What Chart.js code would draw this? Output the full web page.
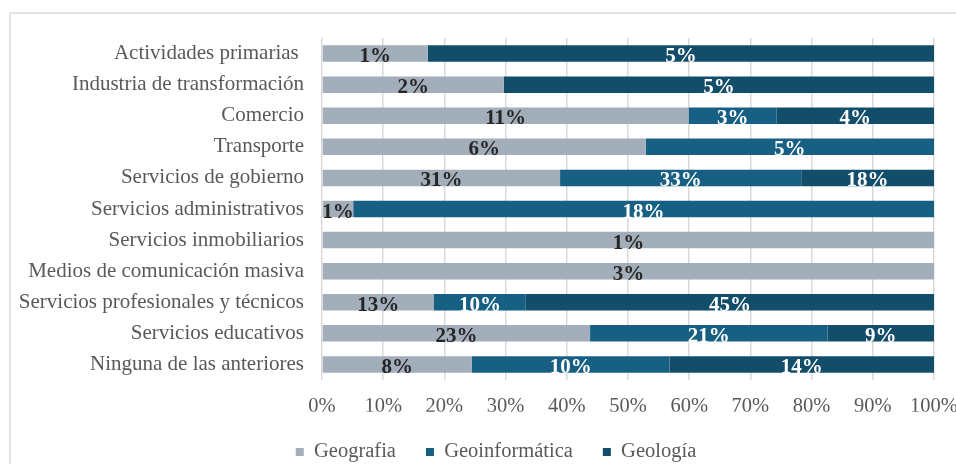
<!DOCTYPE html>
<html>
<head>
<meta charset="utf-8">
<script src="https://cdn.jsdelivr.net/npm/chart.js@4/dist/chart.umd.min.js"></script>
<style>
  html, body { margin: 0; padding: 0; background: #fff; overflow: hidden; }
  #wrap { position: relative; width: 956px; height: 464px; }
  #frame { position: absolute; left: 9px; top: 12px; width: 960px; height: 470px;
           border-left: 2px solid #e3e3e3; border-top: 2px solid #e3e3e3; }
  canvas { position: absolute; left: 0; top: 0; }
</style>
</head>
<body>
<div id="wrap">
  <div id="frame"></div>
  <canvas id="c" width="956" height="464"></canvas>
</div>
<script>
const categories = ['Actividades primarias ', 'Industria de transformación', 'Comercio', 'Transporte',
  'Servicios de gobierno', 'Servicios administrativos', 'Servicios inmobiliarios',
  'Medios de comunicación masiva', 'Servicios profesionales y técnicos', 'Servicios educativos',
  'Ninguna de las anteriores'];
const seriesNames = ['Geografia', 'Geoinformática', 'Geología'];
// share of each bar (percent of 100% stacked bar)
const geografia      = [17.3, 29.7, 59.9, 52.9, 38.9, 5.1, 100, 100, 18.3, 43.8, 24.5];
const geoinformatica = [null, null, 14.4, 47.1, 39.4, 94.9, null, null, 15.0, 38.8, 32.3];
const geologia       = [82.7, 70.3, 25.7, null, 21.7, null, null, null, 66.7, 17.4, 43.2];
// printed labels
const geografiaLabels      = ['1%', '2%', '11%', '6%', '31%', '1%', '1%', '3%', '13%', '23%', '8%'];
const geoinformaticaLabels = [null, null, '3%', '5%', '33%', '18%', null, null, '10%', '21%', '10%'];
const geologiaLabels       = ['5%', '5%', '4%', null, '18%', null, null, null, '45%', '9%', '14%'];
const xTicks = [0, 10, 20, 30, 40, 50, 60, 70, 80, 90, 100];

const colors = ['#a2aeb9', '#176083', '#124e6a'];
const labelColors = ['#262626', '#ffffff', '#ffffff'];
const FONT = '"Liberation Serif", "Times New Roman", serif';

const labelPlugin = {
  id: 'segLabels',
  afterDatasetsDraw(chart) {
    const ctx = chart.ctx;
    const labelSets = [geografiaLabels, geoinformaticaLabels, geologiaLabels];
    ctx.save();
    ctx.font = 'bold 21px ' + FONT;
    ctx.textAlign = 'center';
    ctx.textBaseline = 'alphabetic';
    chart.data.datasets.forEach((ds, di) => {
      const meta = chart.getDatasetMeta(di);
      meta.data.forEach((el, i) => {
        const lab = labelSets[di][i];
        if (!lab) return;
        const p = el.getProps(['x', 'y', 'base', 'height'], true);
        ctx.fillStyle = labelColors[di];
        ctx.fillText(lab, (p.x + p.base) / 2, p.y + 8.5);
      });
    });
    ctx.restore();
  }
};

const legendShift = {
  id: 'legendShift',
  afterLayout(chart) {
    if (chart.legend) { chart.legend.left += 48; }
  }
};

new Chart(document.getElementById('c'), {
  type: 'bar',
  data: {
    labels: categories,
    datasets: [
      { label: seriesNames[0], data: geografia, backgroundColor: colors[0] },
      { label: seriesNames[1], data: geoinformatica, backgroundColor: colors[1] },
      { label: seriesNames[2], data: geologia, backgroundColor: colors[2] }
    ]
  },
  options: {
    indexAxis: 'y',
    responsive: false,
    animation: false,
    devicePixelRatio: 1,
    layout: { padding: { left: 10, right: 22, top: 38, bottom: -8.2 } },
    datasets: { bar: { categoryPercentage: 1, barPercentage: 0.53, borderWidth: 0 } },
    scales: {
      x: {
        stacked: true, min: 0, max: 100,
        afterBuildTicks(s) { s.ticks = xTicks.map(v => ({ value: v })); },
        grid: { color: '#d9d9d9', lineWidth: 1.5, drawTicks: false },
        border: { display: false },
        ticks: { color: '#595959', padding: 14, font: { family: FONT, size: 20.5 },
                 callback: v => v + '%' },
        afterFit(s) { s.height = 31.7; s.paddingLeft = 0; s.paddingRight = 0; }
      },
      y: {
        stacked: true,
        grid: { display: false, drawTicks: false },
        border: { display: false },
        ticks: { color: '#595959', padding: 18, font: { family: FONT, size: 21 } },
        afterFit(s) { s.width = 312; }
      }
    },
    plugins: {
      legend: {
        position: 'bottom',
        labels: { boxWidth: 8, boxHeight: 8, padding: 30, color: '#595959',
                  font: { family: FONT, size: 20.5 } }
      },
      tooltip: { enabled: false }
    }
  },
  plugins: [labelPlugin, legendShift]
});
</script>
</body>
</html>
